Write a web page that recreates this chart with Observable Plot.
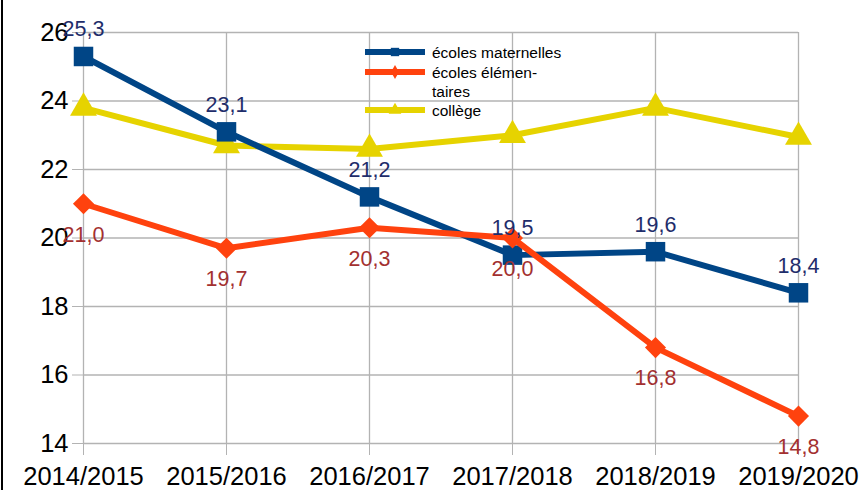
<!DOCTYPE html>
<html><head><meta charset="utf-8">
<script src="https://cdn.jsdelivr.net/npm/d3@7"></script>
<script src="https://cdn.jsdelivr.net/npm/@observablehq/plot@0.6"></script>
<style>
body{margin:0;background:#fff;}
#wrap{position:relative;width:860px;height:490px;overflow:hidden;}
#edge{position:absolute;left:1px;top:0;width:2px;height:490px;background:#000;}
svg{font-family:"Liberation Sans",Arial,sans-serif;}
</style></head>
<body><div id="wrap"><div id="edge"></div></div>
<script>
const years = ["2014/2015","2015/2016","2016/2017","2017/2018","2018/2019","2019/2020"];
const maternelles = [25.3, 23.1, 21.2, 19.5, 19.6, 18.4];
const elementaires = [21.0, 19.7, 20.3, 20.0, 16.8, 14.8];
const college = [23.8, 22.7, 22.6, 23.0, 23.8, 22.95];
const yTicks = [14, 16, 18, 20, 22, 24, 26];
const seriesNames = ["écoles maternelles", "écoles élémen-\ntaires", "collège"];
const colors = ["#004586", "#ff420e", "#e6d300"];

const mk = (vals, s) => years.map((y, i) => ({year: y, value: vals[i], series: s}));
const dMat = mk(maternelles, seriesNames[0]);
const dEle = mk(elementaires, seriesNames[1]);
const dCol = mk(college, seriesNames[2]);
const fmt = v => v.toFixed(1).replace(".", ",");

const legendY = [52, 72, 110];
const legend = seriesNames.map((s, i) => ({s, i, c: colors[i]}));

const plot = Plot.plot({
  width: 860, height: 490,
  marginLeft: 83, marginRight: 62, marginTop: 32, marginBottom: 47,
  style: {fontFamily: "Liberation Sans, Arial, sans-serif", background: "transparent"},
  x: {type: "point", domain: years, padding: 0},
  y: {domain: [14, 26]},
  marks: [
    Plot.ruleY(yTicks, {stroke: "#b3b3b3", strokeWidth: 1.3}),
    Plot.ruleX(years, {stroke: "#b3b3b3", strokeWidth: 1.3}),
    Plot.axisY({ticks: yTicks, tickSize: 11, tickPadding: 4, fontSize: 25.5, stroke: "#b3b3b3", color: "#000", label: null, tickFormat: d => d}),
    Plot.axisX({tickSize: 12, tickPadding: 11, fontSize: 25.5, stroke: "#b3b3b3", color: "#000", label: null}),
    Plot.line(dCol, {x: "year", y: "value", stroke: colors[2], strokeWidth: 6}),
    Plot.dot(dCol, {x: "year", y: "value", symbol: "triangle", r: 10, fill: colors[2]}),
    Plot.line(dMat, {x: "year", y: "value", stroke: colors[0], strokeWidth: 6}),
    Plot.dot(dMat, {x: "year", y: "value", symbol: "square", r: 11, fill: colors[0]}),
    Plot.line(dEle, {x: "year", y: "value", stroke: colors[1], strokeWidth: 6}),
    Plot.dot(dEle, {x: "year", y: "value", symbol: "diamond2", r: 9.5, fill: colors[1]}),
    Plot.text(dMat, {x: "year", y: "value", text: d => fmt(d.value), dy: -27, fontSize: 21.5, fill: "#1f2d6b"}),
    Plot.text(dEle, {x: "year", y: "value", text: d => fmt(d.value), dy: 31, fontSize: 21.5, fill: "#a33030"}),
    () => {
      const g = d3.create("svg:g").attr("text-anchor", "start");
      legend.forEach((d, k) => {
        const y = legendY[k];
        g.append("line").attr("x1", 365).attr("x2", 425).attr("y1", y).attr("y2", y)
          .attr("stroke", d.c).attr("stroke-width", 6);
        const sym = [d3.symbolSquare, d3.symbolDiamond, d3.symbolTriangle][k];
        const size = [70, 55, 70][k];
        g.append("path").attr("d", d3.symbol(sym, size)()).attr("transform", `translate(395,${y})`).attr("fill", d.c);
        const lines = d.s.split("\n");
        const t = g.append("text").attr("x", 432).attr("y", y).attr("font-size", 15.5).attr("fill", "#000")
          .attr("dominant-baseline", "central");
        lines.forEach((ln, j) => t.append("tspan").attr("x", 432).attr("dy", j === 0 ? 0 : 19).text(ln));
      });
      return g.node();
    }
  ]
});
document.getElementById("wrap").appendChild(plot);
plot.style.position = "absolute"; plot.style.left = "0"; plot.style.top = "0";
</script>
</body></html>
